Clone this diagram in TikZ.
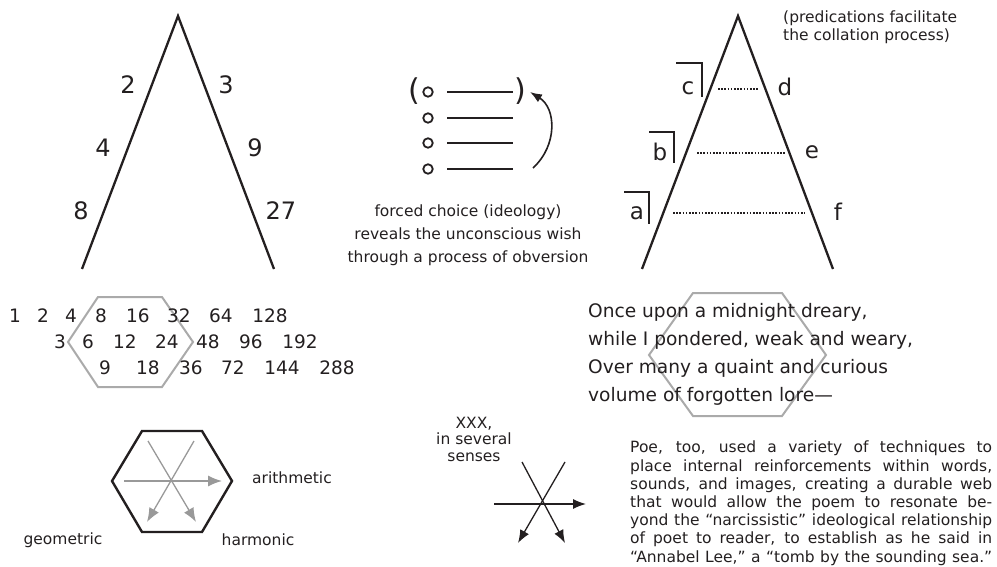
\documentclass[tikz,border=0pt]{standalone}
\usepackage{fontspec}
\setmainfont{DejaVu Sans}
\usetikzlibrary{arrows.meta}
\definecolor{ink}{HTML}{231F20}
\definecolor{hexgray}{HTML}{AAAAAA}
\definecolor{arrgray}{HTML}{999999}
\newcommand{\myfs}[2]{\fontsize{#1}{#2}\selectfont}
\newcommand{\jline}[1]{\hbox to 362pt{\spaceskip=0.3em plus 1fil\xspaceskip=0.3em plus 1fil\relax #1}}
\begin{document}
\begin{tikzpicture}[x=1pt,y=-1pt,
  tri/.style={draw=ink,line width=2.3pt},
  bignum/.style={inner sep=0pt,text=ink,font=\myfs{24}{28}},
  bigletter/.style={inner sep=0pt,text=ink,font=\myfs{23}{27}},
  gridnum/.style={inner sep=0pt,text=ink,font=\myfs{18.5}{22}},
  poemline/.style={inner sep=0pt,text=ink,anchor=west,font=\myfs{18.6}{22}},
  lbl/.style={inner sep=0pt,text=ink,font=\myfs{15.5}{19}},
  dots/.style={draw=ink,line width=1.6pt,dash pattern=on 1.6pt off 1.6pt},
  brk/.style={draw=ink,line width=1.8pt},
  bar/.style={draw=ink,line width=2.2pt},
  circ/.style={draw=ink,line width=1.8pt,circle,minimum size=9.5pt,inner sep=0pt},
  ghex/.style={draw=hexgray,line width=2pt,line join=miter},
  bhex/.style={draw=ink,line width=2.4pt,line join=miter},
  garrow/.style={draw=arrgray,line width=1.3pt,-{Latex[length=14pt,width=11pt]}},
  karrow/.style={draw=ink,line width=1.3pt,-{Latex[length=13pt,width=10pt]}}]
\useasboundingbox (0,0) rectangle (997,567);

% ---------- left triangle ----------
\coordinate (LA) at (178,16);
\coordinate (LL) at (82,269);
\coordinate (LR) at (274,269);
\draw[tri] (LL) -- (LA) -- (LR);
\node[bignum] (n2) at (128,85) {2};
\node[bignum] (n3) at (226,85) {3};
\node[bignum] (n4) at (103,148) {4};
\node[bignum] (n9) at (255,148) {9};
\node[bignum] (n8) at (81,211) {8};
\node[bignum] (n27) at (281,211) {27};

% ---------- middle list ----------
\node[circ] (c1) at (428,92) {};
\node[circ] (c2) at (428,118) {};
\node[circ] (c3) at (428,143) {};
\node[circ] (c4) at (428,169) {};
\coordinate (b1s) at (447,92);  \coordinate (b1e) at (513,92);
\coordinate (b2s) at (447,118); \coordinate (b2e) at (513,118);
\coordinate (b3s) at (447,143); \coordinate (b3e) at (513,143);
\coordinate (b4s) at (447,169); \coordinate (b4e) at (513,169);
\draw[bar] (b1s) -- (b1e);
\draw[bar] (b2s) -- (b2e);
\draw[bar] (b3s) -- (b3e);
\draw[bar] (b4s) -- (b4e);
\node[inner sep=0pt,text=ink,font=\myfs{30}{34}] (lp) at (414,91) {(};
\node[inner sep=0pt,text=ink,font=\myfs{30}{34}] (rp) at (520,91) {)};
\coordinate (arS) at (533,168);
\coordinate (arE) at (530,92);
\draw[draw=ink,line width=1.6pt,-{Latex[length=12pt,width=9pt]}] (arS) .. controls (558,145) and (556,108) .. (arE);
\node[lbl,align=center,font=\myfs{15.5}{23}] (forced) at (468,235) {forced choice (ideology)\\reveals the unconscious wish\\through a process of obversion};

% ---------- right triangle ----------
\coordinate (RA) at (738,16);
\coordinate (RL) at (642,269);
\coordinate (RR) at (833,269);
\draw[tri] (RL) -- (RA) -- (RR);
\node[lbl,anchor=north west,align=left,font=\myfs{15.5}{18}] (pred) at (783,11) {(predications facilitate\\the collation process)};
\node[bigletter] (lc) at (688,88) {c};
\node[bigletter] (ld) at (785,87) {d};
\node[bigletter] (lb) at (660,152) {b};
\node[bigletter] (le) at (812,152) {e};
\node[bigletter] (la) at (637,213) {a};
\node[bigletter] (lf) at (838,212) {f};
\coordinate (d1s) at (718,89);  \coordinate (d1e) at (758,89);
\coordinate (d2s) at (697,153); \coordinate (d2e) at (785,153);
\coordinate (d3s) at (673,213); \coordinate (d3e) at (805,213);
\draw[dots] (d1s) -- (d1e);
\draw[dots] (d2s) -- (d2e);
\draw[dots] (d3s) -- (d3e);
\draw[brk] (676,63) -- (702,63) -- (702,97);
\draw[brk] (649,132) -- (674,132) -- (674,163);
\draw[brk] (624,192) -- (649,192) -- (649,224);

% ---------- number grid ----------
\draw[ghex] (98,297) -- (162,297) -- (193,342) -- (162,387) -- (98,387) -- (68,342) -- cycle;
\node[gridnum] (g1) at (15,316) {1};
\node[gridnum] (g2) at (43,316) {2};
\node[gridnum] (g4) at (71,316) {4};
\node[gridnum] (g8) at (101,316) {8};
\node[gridnum] (g16) at (138,316) {16};
\node[gridnum] (g32) at (179,316) {32};
\node[gridnum] (g64) at (221,316) {64};
\node[gridnum] (g128) at (270,316) {128};
\node[gridnum] (g3) at (60,342) {3};
\node[gridnum] (g6) at (88,342) {6};
\node[gridnum] (g12) at (125,342) {12};
\node[gridnum] (g24) at (167,342) {24};
\node[gridnum] (g48) at (208,342) {48};
\node[gridnum] (g96) at (251,342) {96};
\node[gridnum] (g192) at (300,342) {192};
\node[gridnum] (g9) at (105,368) {9};
\node[gridnum] (g18) at (148,368) {18};
\node[gridnum] (g36) at (191,368) {36};
\node[gridnum] (g72) at (233,368) {72};
\node[gridnum] (g144) at (282,368) {144};
\node[gridnum] (g288) at (337,368) {288};

% ---------- poem ----------
\draw[ghex] (693,293) -- (782,293) -- (826,355) -- (782,416) -- (693,416) -- (649,355) -- cycle;
\node[poemline] (p1) at (588,312) {Once upon a midnight dreary,};
\node[poemline] (p2) at (588,340) {while I pondered, weak and weary,};
\node[poemline] (p3) at (588,368) {Over many a quaint and curious};
\node[poemline] (p4) at (588,396) {volume of forgotten lore—};

% ---------- means hexagon ----------
\draw[bhex] (142,431) -- (202,431) -- (232,481) -- (202,532) -- (142,532) -- (112,481) -- cycle;
\coordinate (h1s) at (124,481); \coordinate (h1e) at (222,481);
\coordinate (h2s) at (148,441); \coordinate (h2e) at (196,522);
\coordinate (h3s) at (194,441); \coordinate (h3e) at (147,522);
\draw[garrow] (h1s) -- (h1e);
\draw[garrow] (h2s) -- (h2e);
\draw[garrow] (h3s) -- (h3e);
\node[lbl,anchor=west] (arith) at (252,478) {arithmetic};
\node[lbl] (geom) at (63,540) {geometric};
\node[lbl] (harm) at (258,540) {harmonic};

% ---------- star ----------
\node[lbl,align=center,font=\myfs{15.5}{16.5}] (xxx) at (474,439) {XXX,\\in several\\senses};
\coordinate (s1s) at (494,504); \coordinate (s1e) at (586,504);
\coordinate (s2s) at (522,462); \coordinate (s2e) at (565,543);
\coordinate (s3s) at (565,462); \coordinate (s3e) at (518,543);
\draw[karrow] (s1s) -- (s1e);
\draw[karrow] (s2s) -- (s2e);
\draw[karrow] (s3s) -- (s3e);

% ---------- paragraph ----------
\node[inner sep=0pt,anchor=north west,text=ink,text width=362pt,
      font=\myfs{15.5}{18.2}] (para) at (630,441) {%
\jline{Poe, too, used a variety of techniques to}
\jline{place internal reinforcements within words,}
\jline{sounds, and images, creating a durable web}
\jline{that would allow the poem to resonate be-}
\jline{yond the “narcissistic” ideological relationship}
\jline{of poet to reader, to establish as he said in}
\jline{“Annabel Lee,” a “tomb by the sounding sea.”}};
\end{tikzpicture}
\end{document}
